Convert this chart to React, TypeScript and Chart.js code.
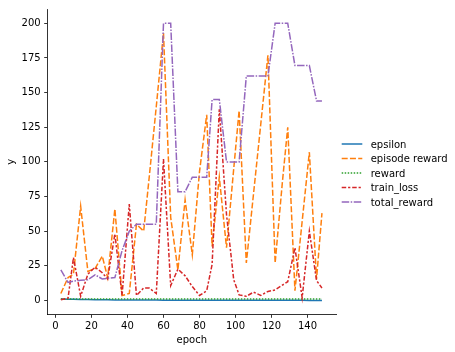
import React, { useEffect, useRef } from "react";
import { Chart, registerables } from "chart.js";

Chart.register(...registerables);

// ---- data ----
const epochs = [3, 7, 10, 14, 18, 22, 26, 29, 33, 37, 41, 45, 49, 52, 56, 60, 64, 68, 72, 76, 80, 84, 87, 91, 95, 99, 102, 106, 110, 114, 118, 122, 126, 129, 133, 137, 141, 145, 148];

const epsilon = [1.0, 0.9, 0.8, 0.7, 0.6, 0.55, 0.5, 0.45, 0.4, 0.36, 0.33, 0.3, 0.28, 0.26, 0.24, 0.22, 0.2, 0.19, 0.18, 0.17, 0.16, 0.15, 0.14, 0.13, 0.12, 0.11, 0.1, 0.1, 0.09, 0.09, 0.08, 0.08, 0.07, 0.07, 0.06, 0.06, 0.05, 0.05, 0.05];

const episodeReward = [5, 16.5, 19, 68, 21, 23, 32, 16.5, 66, 3.6, 5, 55, 50, 88, 140, 193, 60, 22, 72.6, 33, 93, 134, 39, 89, 38, 95, 137, 27, 77, 127, 177, 27, 85, 125, 7, 57, 107, 15.5, 63];

const reward = [1, 1, 1, 1, 1, 1, 1, 1, 1, 1, 1, 1, 1, 1, 1, 1, 1, 1, 1, 1, 1, 1, 1, 1, 1, 1, 1, 1, 1, 1, 1, 1, 1, 1, 1, 1, 1, 1, 1];

const trainLoss = [0.5, 1.7, 31, 3, 19, 24, 20, 15.5, 48, 3.6, 69.5, 3.6, 9, 9, 5, 102, 10.7, 22.6, 17.8, 10, 3.6, 7, 26, 138, 62, 15, 4, 3, 6, 3.6, 6.5, 7.6, 11, 13.5, 38, 2, 50, 14.3, 9];

const totalReward = [22, 13, 14, 14.5, 15, 18.5, 15.5, 16, 16.5, 36, 50, 55, 55, 55, 55, 200, 200, 78.5, 78.5, 89, 89, 89, 145, 145, 100, 100, 100, 162, 162, 162, 162, 200, 200, 200, 169.5, 169.5, 169.5, 144, 144];

const xTicks = [0, 20, 40, 60, 80, 100, 120, 140];
const yTicks = [0, 25, 50, 75, 100, 125, 150, 175, 200];

const seriesNames = ["epsilon", "episode reward", "reward", "train_loss", "total_reward"];
const seriesValues = [epsilon, episodeReward, reward, trainLoss, totalReward];
const seriesColors = ["#1f77b4", "#ff7f0e", "#2ca02c", "#d62728", "#9467bd"];
const seriesDashes: number[][] = [[], [6, 2.25], [1.5, 1.5], [4.5, 1.875, 2.25, 1.875], [7.5, 1.5, 1.5, 1.5]];

const FONT = '10px "DejaVu Sans", sans-serif';

const decorPlugin = {
  id: "decor",
  afterDraw(chart: any) {
    const { ctx, chartArea } = chart;
    ctx.save();
    ctx.fillStyle = "#000";
    ctx.font = FONT;
    // x title
    ctx.textAlign = "center";
    ctx.textBaseline = "middle";
    ctx.fillText("epoch", (chartArea.left + chartArea.right) / 2, 340.5);
    // y title
    ctx.save();
    ctx.translate(11, (chartArea.top + chartArea.bottom) / 2);
    ctx.rotate(-Math.PI / 2);
    ctx.fillText("y", 0, 0);
    ctx.restore();
    // legend
    const x0 = 341.7;
    const x1 = 362.3;
    for (let i = 0; i < seriesNames.length; i++) {
      const y = 144 + i * 14.5;
      ctx.beginPath();
      ctx.strokeStyle = seriesColors[i];
      ctx.lineWidth = 1.5;
      ctx.setLineDash(seriesDashes[i]);
      ctx.moveTo(x0, y);
      ctx.lineTo(x1, y);
      ctx.stroke();
      ctx.setLineDash([]);
      ctx.fillStyle = "#000";
      ctx.textAlign = "left";
      ctx.textBaseline = "middle";
      ctx.fillText(seriesNames[i], 370.7, y + 1);
    }
    ctx.restore();
  },
};

export default function App() {
  const canvasRef = useRef<HTMLCanvasElement | null>(null);

  useEffect(() => {
    const canvas = canvasRef.current;
    if (!canvas) return;
    const datasets = seriesNames.map((name, i) => ({
      label: name,
      data: epochs.map((e, j) => ({ x: e, y: seriesValues[i][j] })),
      borderColor: seriesColors[i],
      backgroundColor: seriesColors[i],
      borderWidth: 1.5,
      borderDash: seriesDashes[i],
      pointRadius: 0,
      tension: 0,
      fill: false,
      order: seriesNames.length - i,
    }));

    const chart = new Chart(canvas, {
      type: "line",
      data: { datasets },
      options: {
        animation: false,
        responsive: false,
        maintainAspectRatio: false,
        devicePixelRatio: 1,
        layout: { padding: { left: 0, top: 6, right: 119, bottom: 0 } },
        plugins: {
          legend: { display: false },
          tooltip: { enabled: false },
        },
        scales: {
          x: {
            type: "linear",
            min: -4.3,
            max: 155.8,
            afterBuildTicks: (scale: any) => {
              scale.ticks = xTicks.map((v) => ({ value: v }));
            },
            afterFit: (scale: any) => {
              scale.height = 352 - 314.3;
            },
            grid: {
              display: true,
              drawOnChartArea: false,
              drawTicks: true,
              tickLength: 3.5,
              tickWidth: 0.8,
              tickColor: "#000",
            },
            border: { display: true, color: "#000", width: 0.8 },
            ticks: {
              color: "#000",
              font: { family: '"DejaVu Sans", sans-serif', size: 10 },
              padding: 3,
              maxRotation: 0,
              autoSkip: false,
            },
          },
          y: {
            type: "linear",
            min: -10,
            max: 210,
            afterBuildTicks: (scale: any) => {
              scale.ticks = yTicks.map((v) => ({ value: v }));
            },
            afterFit: (scale: any) => {
              scale.width = 47.7;
            },
            grid: {
              display: true,
              drawOnChartArea: false,
              drawTicks: true,
              tickLength: 3.5,
              tickWidth: 0.8,
              tickColor: "#000",
            },
            border: { display: true, color: "#000", width: 0.8 },
            ticks: {
              color: "#000",
              font: { family: '"DejaVu Sans", sans-serif', size: 10 },
              padding: 3.5,
              autoSkip: false,
            },
          },
        },
      },
      plugins: [decorPlugin],
    });
    return () => chart.destroy();
  }, []);

  return (
    <div style={{ position: "absolute", left: 0, top: 0, width: 455, height: 352, background: "#fff" }}>
      <canvas ref={canvasRef} width={455} height={352} style={{ width: 455, height: 352, display: "block" }} />
    </div>
  );
}
